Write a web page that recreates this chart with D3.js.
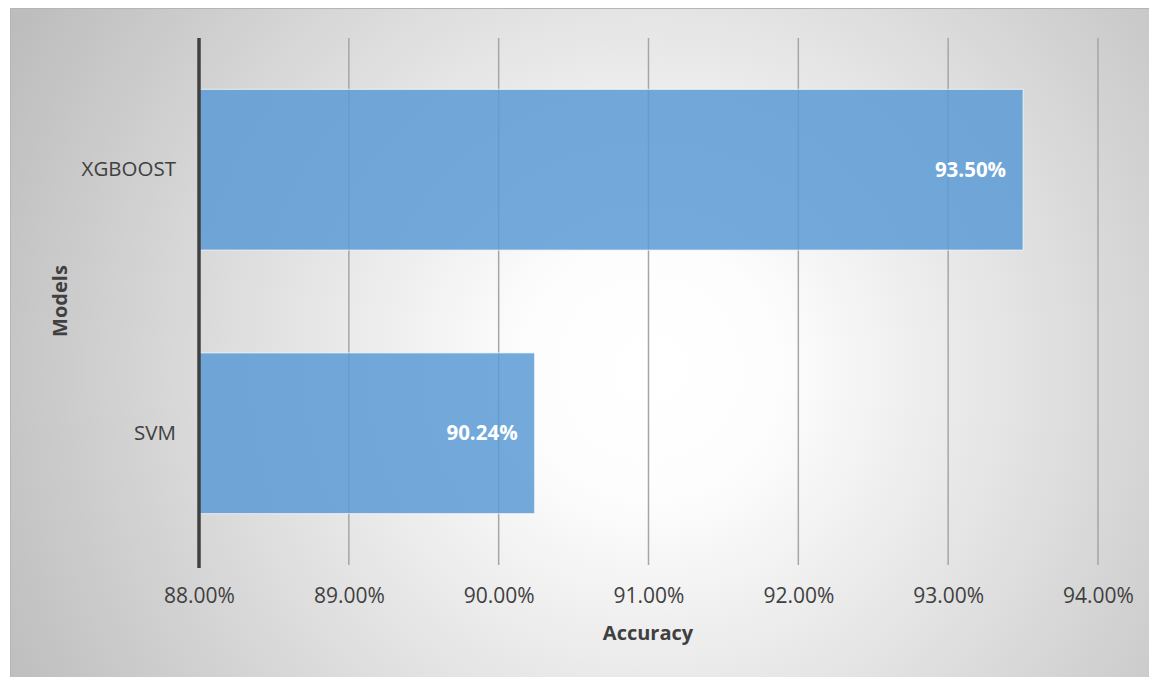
<!DOCTYPE html>
<html>
<head>
<meta charset="utf-8">
<script src="https://cdn.jsdelivr.net/npm/d3@7"></script>
<style>
  html, body { margin: 0; padding: 0; background: #ffffff; }
  svg { display: block; }
  text { font-family: "Open Sans", "Noto Sans", sans-serif; }
</style>
</head>
<body>
<svg id="chart" width="1149" height="677"></svg>
<script>
// Model accuracy (percent)
const models = ["XGBOOST", "SVM"];
const accuracy = [93.50, 90.24];
const tickValues = [88, 89, 90, 91, 92, 93, 94];
const xTitle = "Accuracy";
const yTitle = "Models";

const W = 1149, H = 677;
const svg = d3.select("#chart");

// Radial-gradient chart background
const defs = svg.append("defs");
const grad = defs.append("radialGradient")
  .attr("id", "bg")
  .attr("gradientUnits", "userSpaceOnUse")
  .attr("cx", 650).attr("cy", 370).attr("r", 720);
grad.append("stop").attr("offset", "0%").attr("stop-color", "#ffffff");
grad.append("stop").attr("offset", "18%").attr("stop-color", "#fdfdfd");
grad.append("stop").attr("offset", "100%").attr("stop-color", "#bdbdbd");

svg.append("rect")
  .attr("x", 10.5).attr("y", 8.5)
  .attr("width", W - 10).attr("height", H - 8)
  .attr("fill", "url(#bg)")
  .attr("stroke", "#b5b5b5").attr("stroke-width", 1);

const plot = { left: 199, right: 1098, top: 38, bottom: 565 };

const x = d3.scaleLinear().domain([88, 94]).range([plot.left, plot.right]);
const y = d3.scaleBand().domain(models).range([plot.top, plot.bottom]).paddingInner(0.39).paddingOuter(0.195);

// Vertical gridlines
svg.append("g")
  .selectAll("line")
  .data(tickValues.slice(1))
  .join("line")
  .attr("x1", d => x(d)).attr("x2", d => x(d))
  .attr("y1", plot.top).attr("y2", plot.bottom)
  .attr("stroke", "#a6a6a6").attr("stroke-width", 1.5);

// Bars
svg.append("g")
  .selectAll("rect")
  .data(models)
  .join("rect")
  .attr("x", x(88))
  .attr("y", d => y(d))
  .attr("width", (d, i) => x(accuracy[i]) - x(88))
  .attr("height", y.bandwidth())
  .attr("fill", "#5b9bd5").attr("fill-opacity", 0.85)
  .attr("stroke", "#ffffff").attr("stroke-opacity", 0.6).attr("stroke-width", 1.2);

// Value labels inside bar ends
svg.append("g")
  .selectAll("text")
  .data(models)
  .join("text")
  .attr("x", (d, i) => x(accuracy[i]) - 17)
  .attr("y", d => y(d) + y.bandwidth() / 2)
  .attr("dy", "0.35em")
  .attr("text-anchor", "end")
  .attr("fill", "#ffffff")
  .attr("font-size", 20.5)
  .attr("font-weight", "bold")
  .text((d, i) => accuracy[i].toFixed(2) + "%");

// Category axis line
svg.append("line")
  .attr("x1", plot.left).attr("x2", plot.left)
  .attr("y1", plot.top).attr("y2", plot.bottom + 3)
  .attr("stroke", "#404040").attr("stroke-width", 3.5);

// X axis tick labels
const xAxis = d3.axisBottom(x)
  .tickValues(tickValues)
  .tickSize(0)
  .tickPadding(0)
  .tickFormat(d => d.toFixed(2) + "%");
const gx = svg.append("g").attr("transform", `translate(0,${plot.bottom + 23})`).call(xAxis);
gx.select(".domain").remove();
gx.selectAll("text")
  .attr("font-family", "'Open Sans', sans-serif")
  .attr("font-size", 21)
  .attr("fill", "#404040");

// Y axis category labels
const yAxis = d3.axisLeft(y).tickSize(0).tickPadding(23);
const gy = svg.append("g").attr("transform", `translate(${plot.left},0)`).call(yAxis);
gy.select(".domain").remove();
gy.selectAll("text")
  .attr("font-family", "'Open Sans', sans-serif")
  .attr("font-size", 20.5)
  .attr("fill", "#404040");

// Axis titles
svg.append("text")
  .attr("x", 648).attr("y", 633)
  .attr("dy", "0.35em")
  .attr("text-anchor", "middle")
  .attr("font-size", 20).attr("font-weight", "bold")
  .attr("fill", "#404040")
  .text(xTitle);

svg.append("text")
  .attr("transform", "translate(60,301) rotate(-90)")
  .attr("dy", "0.35em")
  .attr("text-anchor", "middle")
  .attr("font-size", 20).attr("font-weight", "bold")
  .attr("fill", "#404040")
  .text(yTitle);
</script>
</body>
</html>
